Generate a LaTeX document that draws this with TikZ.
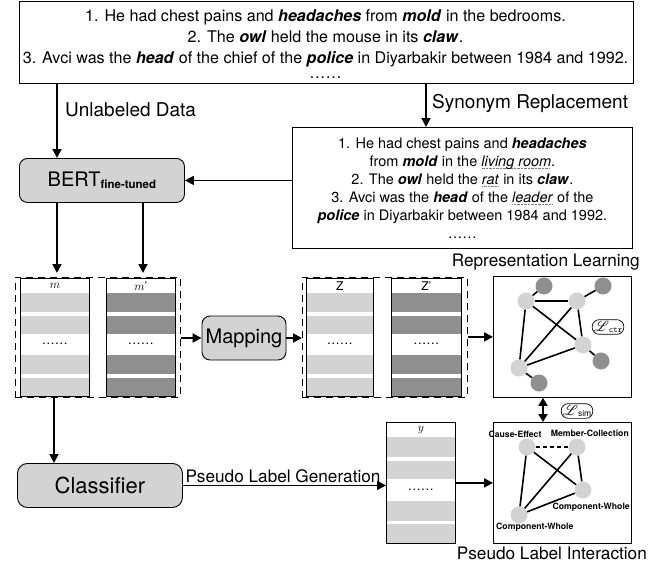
\documentclass[tikz,border=0pt]{standalone}
\usepackage{fontspec}
\setmainfont{TeX Gyre Heros}
\usepackage{mathrsfs}
\usetikzlibrary{arrows.meta,calc}

\definecolor{lg}{RGB}{211,211,211}
\definecolor{dg}{RGB}{143,143,143}

\newcommand\bi[1]{\textbf{\textit{#1}}}
\newsavebox\synbox
\newcommand\synw[1]{\sbox\synbox{\textit{#1}}\rlap{\raisebox{-2.6pt}{\textcolor{gray}{\leaders\hbox to 1.4pt{\hss\rule{0.8pt}{0.6pt}\hss}\hskip\wd\synbox}}}\usebox\synbox}
\newcommand\twodots{\textellipsis\textellipsis}

\tikzset{
  arr/.style={line width=1.8pt, -{Triangle[length=9pt,width=9pt]}},
  darr/.style={line width=1.8pt, {Triangle[length=8pt,width=9pt]}-{Triangle[length=8pt,width=9pt]}},
  txtbox/.style={draw, line width=0.8pt, align=center, inner sep=0pt, anchor=north west},
  topline/.style={font=\fontsize{16.1}{20}\selectfont, inner sep=0pt, anchor=base},
  rbox/.style={draw, line width=0.9pt, rounded corners=8pt, fill=lg, inner sep=0pt},
  colbox/.style={draw, line width=0.8pt, inner sep=0pt, anchor=north west},
  grp/.style={draw, dash pattern=on 7pt off 5pt, line width=0.8pt, inner sep=0pt, anchor=north west},
  lnode/.style={circle, fill=lg, minimum size=17pt, inner sep=0pt},
  dnode/.style={circle, fill=dg, minimum size=17pt, inner sep=0pt},
  gedge/.style={line width=1.6pt},
  lbl/.style={font=\fontsize{17.2}{20}\selectfont, inner sep=0pt},
  biglbl/.style={font=\fontsize{19}{22}\selectfont, inner sep=0pt},
  gbox/.style={draw, line width=0.8pt, inner sep=0pt, anchor=north west, minimum width=138pt, minimum height=121pt},
  loss/.style={draw, line width=0.7pt, rounded corners=7pt, inner sep=1.5pt, font=\fontsize{15}{15}\selectfont},
  rlab/.style={font=\fontsize{8.7}{10}\selectfont\bfseries, inner sep=0pt},
  dotsn/.style={font=\fontsize{13}{14}\selectfont, inner sep=0pt},
  collab/.style={inner sep=0pt}
}

% name, x-left, top, width, height, colour, label
\newcommand\featcol[7]{%
  \fill[#6] (#2,{#3+0.127*#5}) rectangle ({#2+#4},{#3+0.288*#5});
  \fill[#6] (#2,{#3+0.322*#5}) rectangle ({#2+#4},{#3+0.475*#5});
  \fill[#6] (#2,{#3+0.653*#5}) rectangle ({#2+#4},{#3+0.814*#5});
  \fill[#6] (#2,{#3+0.847*#5}) rectangle ({#2+#4},{#3+#5});
  \node[colbox, minimum width=#4pt, minimum height=#5pt] (#1) at (#2,#3) {};
  \node[collab] (#1lab) at ($(#1.north)+(0,8)$) {#7};
  \node[dotsn] (#1dots) at ($(#1.north)!0.555!(#1.south)$) {\twodots};
}

\begin{document}
\begin{tikzpicture}[x=1pt,y=-1pt]
\useasboundingbox (0,0) rectangle (668,567);

% top sentence box
\node[txtbox, minimum width=614pt, minimum height=82pt] (top) at (19,1) {};
\node[topline] (t1) at (325.5,21.5) {1. He had chest pains and \bi{headaches} from \bi{mold} in the bedrooms.};
\node[topline] (t2) at (325.5,43) {2. The \bi{owl} held the mouse in its \bi{claw}.};
\node[topline] (t3) at (325.5,64) {3. Avci was the \bi{head} of the chief of the \bi{police} in Diyarbakir between 1984 and 1992.};
\node[topline] (t4) at (325.5,78.5) {\twodots};

% augmented sentence box
\node[txtbox, minimum width=340pt, minimum height=121pt, font=\fontsize{14.5}{18}\selectfont] (syn) at (292,127)
{1. He had chest pains and \bi{headaches}\\
from \bi{mold} in the \synw{living room}.\\
2. The \bi{owl} held the \synw{rat} in its \bi{claw}.\\
3. Avci was the \bi{head} of the \synw{leader} of the\\
\bi{police} in Diyarbakir between 1984 and 1992.\\
\twodots};

\coordinate (ux) at (57,0);
\coordinate (vx) at (143,0);
\coordinate (sx) at (426,0);
\coordinate (cx) at (54,0);
\coordinate (dx) at (543,0);

% BERT
\node[rbox, minimum width=165pt, minimum height=44pt, anchor=north west, font=\fontsize{20}{24}\selectfont] (bert) at (19,158)
{BERT{\fontsize{11.5}{12}\selectfont\bfseries\raisebox{-1.5pt}{fine-tuned}}};

\draw[arr] (top.south -| ux) -- (bert.north -| ux);
\node[biglbl, anchor=west] (unl) at (65,110) {Unlabeled Data};
\draw[arr] (top.south -| sx) -- (syn.north -| sx);
\node[biglbl, anchor=west] (synl) at (432,103) {Synonym Replacement};
\draw[arr] (syn.west |- bert.east) -- (bert.east);

% m group
\node[grp, minimum width=165pt, minimum height=120pt] (mgrp) at (15,277) {};
\featcol{mc}{20}{278}{69}{118}{lg}{\fontsize{12}{12}\selectfont$m$}
\featcol{mpc}{106}{278}{69}{118}{dg}{\fontsize{12}{12}\selectfont$m$’}

\draw[arr, shorten >=4pt] (bert.south -| ux) -- (mgrp.north -| ux);
\draw[arr, shorten >=4pt] (bert.south -| vx) -- (mgrp.north -| vx);

% mapping
\node[rbox, minimum width=84pt, minimum height=44pt, font=\fontsize{20}{24}\selectfont] (map) at (244,338) {Mapping};

% z group
\node[grp, minimum width=165pt, minimum height=120pt] (zgrp) at (302,277) {};
\featcol{zc}{306}{278}{67}{118}{lg}{\fontsize{12}{12}\selectfont Z}
\featcol{zpc}{391}{278}{70}{118}{dg}{\fontsize{12}{12}\selectfont Z’}

\draw[arr] (mgrp.east |- map.west) -- (map.west);
\draw[arr] (map.east) -- (zgrp.west |- map.east);

% representation graph
\node[lbl, anchor=east] (replab) at (640,262) {Representation Learning};
\node[gbox] (g1) at (493,276) {};
\draw[arr] (zgrp.east |- g1.west) -- (g1.west);

\node[lnode] (A) at (526,301) {};
\node[dnode] (a) at (544,286) {};
\node[lnode] (B) at (577,301) {};
\node[dnode] (b) at (603,286) {};
\node[lnode] (C) at (583,345) {};
\node[dnode] (c) at (601,361) {};
\node[lnode] (D) at (519,368) {};
\node[dnode] (d) at (539,383) {};
\draw[gedge] (A) -- (a);
\draw[gedge] (B) -- (b);
\draw[gedge] (C) -- (c);
\draw[gedge] (D) -- (d);
\draw[gedge] (A) -- (B);
\draw[gedge] (A) -- (C);
\draw[gedge] (B) -- (D);
\draw[gedge] (A) -- (D);
\draw[gedge] (B) -- (C);
\draw[gedge] (D) -- (C);
\node[loss] (lctr) at (608,327) {$\mathscr{L}$\raisebox{-1.5pt}{\fontsize{8.5}{8.5}\selectfont\ttfamily ctr}};

% classifier
\node[rbox, rounded corners=10pt, minimum width=165pt, minimum height=44pt, anchor=north west, font=\fontsize{22}{24}\selectfont] (cls) at (17,463) {Classifier};
\draw[arr] (mgrp.south -| cx) -- (cls.north -| cx);

% pseudo labels
\featcol{yc}{386}{422}{69}{121}{lg}{\fontsize{12}{12}\selectfont$y$}
\draw[arr] (cls.east) -- (yc.west |- cls.east);
\node[lbl] (plg) at (283,476) {Pseudo Label Generation};

% interaction graph
\node[gbox] (g2) at (493,422) {};
\draw[arr] (yc.east |- g2.west) -- (g2.west);
\draw[darr] (g1.south -| dx) -- (g2.north -| dx);
\node[loss] (lsim) at (577,411) {$\mathscr{L}$\raisebox{-1.5pt}{\fontsize{8.5}{8.5}\selectfont sim}};

\node[lnode] (ce) at (527,447) {};
\node[lnode] (mcol) at (577,447) {};
\node[lnode] (cw1) at (583,490) {};
\node[lnode] (cw2) at (519,515) {};
\draw[gedge, dash pattern=on 4pt off 3pt] (ce) -- (mcol);
\draw[gedge] (ce) -- (cw1);
\draw[gedge] (mcol) -- (cw2);
\draw[gedge] (ce) -- (cw2);
\draw[gedge] (mcol) -- (cw1);
\draw[gedge] (cw2) -- (cw1);
\node[rlab] (tce) at (515,434) {Cause-Effect};
\node[rlab, anchor=east] (tmc) at (629,433) {Member-Collection};
\node[rlab, anchor=east] (tcw1) at (630,507) {Component-Whole};
\node[rlab, anchor=west] (tcw2) at (496,527) {Component-Whole};
\node[lbl, anchor=east] (pli) at (647,553) {Pseudo Label Interaction};

\end{tikzpicture}
\end{document}
